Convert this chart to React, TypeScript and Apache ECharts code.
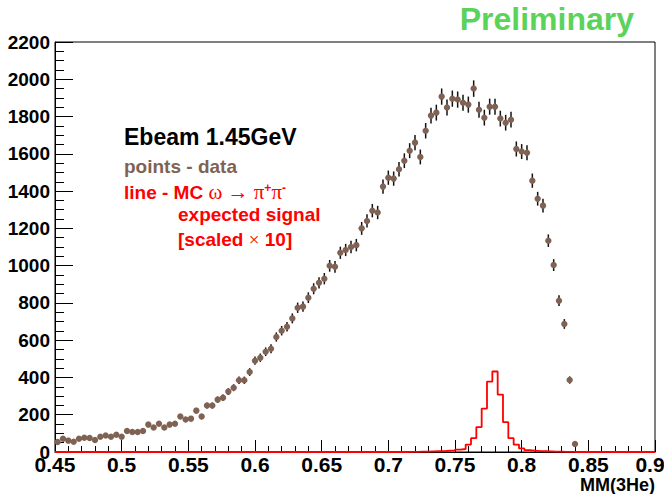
import { useEffect, useRef } from 'react';
import * as echarts from 'echarts';

// ---- axis definitions ----
const X_MIN = 0.45;
const X_MAX = 0.9;
const X_STEP = 0.05;
const Y_MIN = 0;
const Y_MAX = 2200;
const Y_STEP = 200;

// ---- binning (0.004 wide bins starting at 0.45) ----
const BIN_START = 0.45;
const BIN_WIDTH = 0.004;

// data counts per bin, bin 0 = [0.450, 0.454)
const dataCounts = [
  54, 71, 61, 55, 71, 77, 75, 64, 82, 88,
  82, 93, 82, 113, 107, 107, 113, 147, 131, 152,
  131, 147, 152, 190, 174, 179, 222, 190, 249, 249,
  281, 291, 324, 345, 385, 385, 429, 490, 506, 538,
  554, 617, 651, 672, 717, 774, 780, 828, 876, 908,
  930, 999, 994, 1069, 1084, 1100, 1110, 1200, 1240, 1295,
  1285, 1424, 1472, 1467, 1517, 1563, 1617, 1660, 1583, 1724,
  1805, 1821, 1907, 1848, 1896, 1891, 1874, 1864, 1950, 1837,
  1794, 1853, 1853, 1789, 1767, 1783, 1626, 1612, 1606, 1456,
  1359, 1322, 1134, 1003, 812, 687, 386, 43,
];

// MC expected signal (scaled x10), bins starting at MC_FIRST_BIN; all other bins are 0
const MC_FIRST_BIN = 66;
const mcCounts = [
  1, 1, 2, 2, 3, 4, 5, 7, 9, 13, 16, 40, 74, 134, 233, 378, 432, 308, 160, 74,
  40, 19, 10, 7, 5, 4, 3, 2, 2, 1, 1,
];
const N_BINS = 113;

const DATA_COLOR = '#7f6253';
const RED = '#ff0000';
const SANS = '"Liberation Sans", Arial, Helvetica, sans-serif';
const SERIF = '"Liberation Serif", "Times New Roman", "DejaVu Serif", serif';

function round4(v: number) {
  return Number(v.toFixed(4));
}

export default function App() {
  const ref = useRef<HTMLDivElement>(null);

  useEffect(() => {
    if (!ref.current) return;
    const chart = echarts.init(ref.current, null, { renderer: 'svg' });

    const points = dataCounts.map((v, k) => [
      round4(BIN_START + BIN_WIDTH * (k + 0.5)),
      v,
      Math.sqrt(v),
    ]);

    const mcLine: number[][] = [];
    for (let n = 0; n < N_BINS; n++) {
      const idx = n - MC_FIRST_BIN;
      const v = idx >= 0 && idx < mcCounts.length ? mcCounts[idx] : 0;
      mcLine.push([round4(BIN_START + BIN_WIDTH * n), v]);
    }
    mcLine.push([X_MAX, 0]);

    const tickFont = { color: '#000', fontWeight: 'bold' as const, fontFamily: SANS };

    const txt = (x: number, y: number, text: string, font: string, fill: string, extra: any = {}) => ({
      type: 'text',
      x,
      y,
      z: 100,
      style: {
        text,
        font,
        fill,
        align: extra.align || 'left',
        textAlign: extra.align || 'left',
        verticalAlign: 'middle',
        textVerticalAlign: 'middle',
        ...(extra.rich ? { rich: extra.rich } : {}),
      },
    });

    const redBold = { fontFamily: SANS, fontWeight: 'bold', fontSize: 19, fill: RED, color: RED };
    const redSerif = { fontFamily: SERIF, fontWeight: 'normal', fontSize: 21, fill: RED, color: RED };
    const redSup = { fontFamily: SANS, fontWeight: 'bold', fontSize: 12, fill: RED, color: RED, verticalAlign: 'top' };

    chart.setOption({
      animation: false,
      backgroundColor: '#fff',
      grid: {
        left: 55,
        right: 9,
        top: 42,
        bottom: 42,
        show: true,
        borderColor: '#000',
        borderWidth: 1,
        backgroundColor: 'transparent',
        outerBoundsMode: 'none',
        containLabel: false,
      },
      xAxis: {
        type: 'value',
        min: X_MIN,
        max: X_MAX,
        interval: X_STEP,
        axisLine: { show: true, onZero: false, lineStyle: { color: '#000', width: 1 } },
        axisTick: { show: true, inside: true, length: 12, lineStyle: { color: '#000', width: 1 } },
        minorTick: { show: true, splitNumber: 5, length: 6, lineStyle: { color: '#000', width: 1 } },
        splitLine: { show: false },
        axisLabel: {
          ...tickFont,
          fontSize: 21,
          lineHeight: 19,
          margin: 3,
          showMinLabel: true,
          showMaxLabel: true,
          formatter: (v: number) => {
            const s = String(Number(v.toFixed(2)));
            return v >= X_MAX - 1e-9 ? `{e|${s}}` : s;
          },
          rich: {
            e: { ...tickFont, fontSize: 21, lineHeight: 19, padding: [0, 10, 0, 0] },
          },
        },
      },
      yAxis: {
        type: 'value',
        min: Y_MIN,
        max: Y_MAX,
        interval: Y_STEP,
        axisLine: { show: true, lineStyle: { color: '#000', width: 1 } },
        axisTick: { show: true, inside: true, length: 18, lineStyle: { color: '#000', width: 1 } },
        minorTick: { show: true, splitNumber: 4, length: 9, lineStyle: { color: '#000', width: 1 } },
        splitLine: { show: false },
        axisLabel: {
          ...tickFont,
          fontSize: 19,
          margin: 5,
          showMinLabel: true,
          showMaxLabel: true,
          formatter: (v: number) => String(Math.round(v)),
        },
      },
      series: [
        {
          type: 'line',
          step: 'end',
          data: mcLine,
          showSymbol: false,
          symbol: 'none',
          lineStyle: { color: RED, width: 1.8 },
          z: 3,
          clip: false,
        },
        {
          type: 'custom',
          data: points,
          encode: { x: 0, y: 1 },
          z: 4,
          renderItem: (_params: any, api: any) => {
            const x = api.value(0);
            const y = api.value(1);
            const e = api.value(2);
            const c = api.coord([x, y]);
            const t = api.coord([x, y + e]);
            const b = api.coord([x, Math.max(0, y - e)]);
            return {
              type: 'group',
              children: [
                {
                  type: 'line',
                  shape: { x1: c[0], y1: t[1], x2: c[0], y2: b[1] },
                  style: { stroke: '#111', lineWidth: 1.5 },
                },
                {
                  type: 'circle',
                  shape: { cx: c[0], cy: c[1], r: 3.2 },
                  style: { fill: DATA_COLOR },
                },
              ],
            };
          },
        },
      ],
      graphic: [
        txt(634, 19, 'Preliminary', `bold 32px ${SANS}`, '#5bd35b', { align: 'right' }),
        txt(124, 137, 'Ebeam 1.45GeV', `bold 23px ${SANS}`, '#000'),
        txt(124, 166, 'points - data', `bold 19px ${SANS}`, DATA_COLOR),
        txt(124, 192, '{a|line - MC }{b|ω → π}{s|+}{b|π}{s|-}', `bold 19px ${SANS}`, RED, {
          rich: { a: redBold, b: redSerif, s: redSup },
        }),
        txt(178, 214, 'expected signal', `bold 19px ${SANS}`, RED),
        txt(178, 239, '{a|[scaled }{b|×}{a| 10]}', `bold 19px ${SANS}`, RED, {
          rich: { a: redBold, b: { ...redSerif, fontSize: 19 } },
        }),
        txt(655, 485, 'MM(3He)', `bold 18px ${SANS}`, '#000', { align: 'right' }),
      ],
    });

    return () => chart.dispose();
  }, []);

  return (
    <div
      ref={ref}
      style={{ position: 'fixed', left: 0, top: 0, width: 664, height: 494, background: '#fff' }}
    />
  );
}
